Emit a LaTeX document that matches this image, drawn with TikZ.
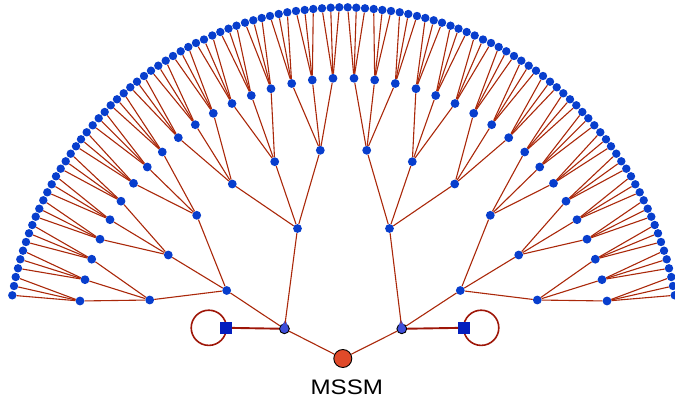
\documentclass[tikz,border=0pt]{standalone}
\usepackage{fontspec}
\setmainfont{Liberation Sans}
\usetikzlibrary{arrows.meta,calc,positioning,backgrounds}
\definecolor{TreeRed}{RGB}{170,40,10}
\definecolor{LoopRed}{RGB}{158,22,8}
\definecolor{LeafBlue}{RGB}{8,62,205}
\definecolor{HubBlue}{RGB}{62,78,218}
\definecolor{SquareBlue}{RGB}{4,30,190}
\definecolor{RootRed}{RGB}{224,74,42}

\begin{document}
\begin{tikzpicture}[x=1pt, y=-1pt,
    leafdot/.style={circle, fill=LeafBlue, inner sep=0pt, minimum size=8.4pt},
    middot/.style={circle, fill=LeafBlue, inner sep=0pt, minimum size=8.8pt},
    hub/.style={circle, fill=HubBlue, draw=black, line width=0.9pt, inner sep=0pt, minimum size=9.8pt},
    sqnode/.style={rectangle, fill=SquareBlue, inner sep=0pt, minimum size=11.5pt},
    branch/.style={TreeRed, line width=1.1pt},
    bond/.style={LoopRed, line width=1.9pt},
    selfloop/.style={LoopRed, line width=1.6pt}]
  \useasboundingbox (0,0) rectangle (675,398);

  % Root, label, hubs and the two squares
  \node[circle, fill=RootRed, draw=black, line width=0.9pt, inner sep=0pt, minimum size=18pt] (mssm) at (342.8,358.5) {};
  \node[inner sep=0pt, below=12pt of mssm, xshift=4pt, font=\fontsize{21}{24}\selectfont] (lbl) {\scalebox{1.15}[1]{MSSM}};
  \node[hub] (hubL) at (284.4,328.8) {};
  \node[hub] (hubR) at (401.8,328.8) {};
  \node[sqnode] (sqL) at (226,327.8) {};
  \node[sqnode] (sqR) at (464,327.8) {};

  % Self loops behind the squares
  \begin{scope}[on background layer]
    \draw[selfloop] ($(sqL)+(-17.2,0)$) circle (17.6pt);
    \draw[selfloop] ($(sqR)+(17.2,0)$) circle (17.6pt);
  \end{scope}

  % Second level
  \foreach \x/\y [count=\i] in {226.7/290.5, 297.5/228.5} {
    \node[middot] (sL\i) at (\x,\y) {};
    \node[middot] (sR\i) at ({687-\x},\y) {};
  }

  % Third level
  \foreach \x/\y [count=\i] in {149.7/300, 168.3/255, 196.7/215.3, 232.3/184, 274.7/161.7, 320.3/150.3} {
    \node[middot] (tL\i) at (\x,\y) {};
    \node[middot] (tR\i) at ({687-\x},\y) {};
  }

  % Fourth level
  \foreach \x/\y [count=\i] in {80/301, 85/279.7, 91.7/259.2, 100/239.2, 110/219.7, 121/201.2,
      133.5/183.3, 147.3/167, 162.3/152, 178.3/137.7, 195.3/124.7, 213.3/113.3,
      232/103.5, 251.3/95.5, 271/88.7, 291.7/83.5, 312.3/80, 333/78.3} {
    \node[middot] (fL\i) at (\x,\y) {};
    \node[middot] (fR\i) at ({687-\x},\y) {};
  }

  % Outer ring, mirrored about x = 343.5
  \foreach \x/\y [count=\i] in {12.3/295.3, 14/286, 15.7/277, 18/268.3, 20.3/259.3, 23/250.7,
      26/242, 29/233.3, 32.3/225, 35.7/216.7, 39.3/208.7, 43.3/200.3,
      47.3/192.3, 51.7/184.3, 56/176.3, 60.7/168.7, 65.7/161.3, 70.7/153.7,
      76/146.3, 81/139.3, 86.7/132.3, 92.7/125.3, 98.7/118.3, 104.7/112,
      110.7/105.3, 117/99.3, 123.7/93.3, 130.3/87.3, 137/81.7, 144/76,
      151/70.7, 158.3/65.7, 165.7/60.7, 173/56, 180.7/51.3, 188.3/47,
      196/43, 204/39.5, 212.3/35.5, 220.3/32, 228.5/28.7, 236.5/25.7,
      245/22.7, 253.3/20.3, 261.7/18, 270/16, 278.7/14, 287.3/12.3,
      296/11, 304.7/10, 313.3/9, 322/8.3, 330.7/7.7, 339.3/7.3} {
    \node[leafdot] (lL\i) at (\x,\y) {};
    \node[leafdot] (lR\i) at ({687-\x},\y) {};
  }

  % Small tips on the hubs
  \draw[HubBlue, line width=0.6pt, -{Triangle[length=6pt, width=5.5pt]}] (hubL.center) -- ($(hubL.center)!9pt!(sL2)$);
  \draw[HubBlue, line width=0.6pt, -{Triangle[length=6pt, width=5.5pt]}] (hubR.center) -- ($(hubR.center)!9pt!(sR2)$);

  % Branches
  \foreach \k in {1,...,18} {
    \foreach \j in {0,1,2} {
      \pgfmathtruncatemacro{\m}{3*\k-\j}
      \draw[branch] (fL\k) -- (lL\m);
      \draw[branch] (fR\k) -- (lR\m);
    }
  }
  \foreach \k in {1,...,6} {
    \foreach \j in {0,1,2} {
      \pgfmathtruncatemacro{\m}{3*\k-\j}
      \draw[branch] (tL\k) -- (fL\m);
      \draw[branch] (tR\k) -- (fR\m);
    }
  }
  \foreach \k in {1,2} {
    \foreach \j in {0,1,2} {
      \pgfmathtruncatemacro{\m}{3*\k-\j}
      \draw[branch] (sL\k) -- (tL\m);
      \draw[branch] (sR\k) -- (tR\m);
    }
  }
  \draw[branch] (hubL) -- (sL1);
  \draw[branch] (hubL) -- (sL2);
  \draw[branch] (hubR) -- (sR1);
  \draw[branch] (hubR) -- (sR2);
  \draw[branch] (mssm) -- (hubL);
  \draw[branch] (mssm) -- (hubR);
  \draw[bond] (sqL) -- (hubL);
  \draw[bond] (sqR) -- (hubR);
\end{tikzpicture}
\end{document}
